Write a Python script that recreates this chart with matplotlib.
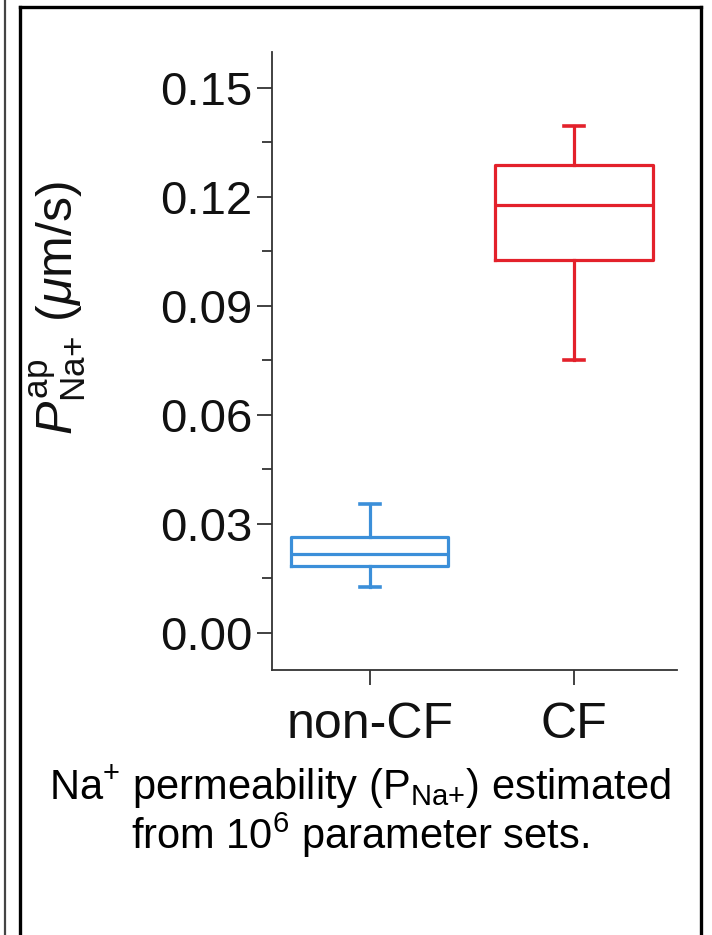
import matplotlib
matplotlib.use("Agg")
import matplotlib.pyplot as plt
from matplotlib.lines import Line2D
from matplotlib.ticker import MultipleLocator

plt.rcParams['font.family'] = ['Liberation Sans', 'DejaVu Sans']
plt.rcParams['mathtext.fontset'] = 'custom'
plt.rcParams['mathtext.rm'] = 'Liberation Sans'
plt.rcParams['mathtext.it'] = 'Liberation Sans:italic'
plt.rcParams['mathtext.bf'] = 'Liberation Sans:bold'

# box statistics (um/s)
groups = ['non-CF', 'CF']
whislo = [0.0127, 0.0751]
q1 = [0.0184, 0.1027]
med = [0.0217, 0.1178]
q3 = [0.0265, 0.1288]
whishi = [0.0355, 0.1395]
colors = ['#3b8fd9', '#e3212b']
yticks = [0.00, 0.03, 0.06, 0.09, 0.12, 0.15]

fig = plt.figure(figsize=(7.12, 9.35), dpi=100)
ax = fig.add_axes([272 / 712, 1 - 670 / 935, (677 - 272) / 712, (670 - 52) / 935])

stats = []
for i, g in enumerate(groups):
    stats.append(dict(label=g, whislo=whislo[i], q1=q1[i], med=med[i],
                      q3=q3[i], whishi=whishi[i], fliers=[]))

for i, s in enumerate(stats):
    c = colors[i]
    ax.bxp([s], positions=[i], widths=0.77, capwidths=0.1, showfliers=False,
           boxprops=dict(color=c, linewidth=2.3),
           medianprops=dict(color=c, linewidth=2.3),
           whiskerprops=dict(color=c, linewidth=2.3),
           capprops=dict(color=c, linewidth=2.6))

ax.set_xlim(-0.48, 1.505)
ax.set_ylim(-0.0102, 0.1599)
ax.set_xticks([0, 1])
ax.set_xticklabels(groups)
ax.set_yticks(yticks)
ax.set_yticklabels(['%.2f' % v for v in yticks])
ax.yaxis.set_minor_locator(MultipleLocator(0.015))

for side in ['top', 'right']:
    ax.spines[side].set_visible(False)
for side in ['left', 'bottom']:
    ax.spines[side].set_linewidth(1.3)
    ax.spines[side].set_color('#333333')

ax.tick_params(axis='both', which='major', direction='out', length=11, width=1.3,
               color='#333333', labelcolor='#111111')
ax.tick_params(axis='y', which='major', labelsize=34, pad=3)
ax.tick_params(axis='y', which='minor', direction='out', length=7, width=1.3,
               color='#333333')
ax.tick_params(axis='x', labelsize=36, pad=12)

ax.set_ylabel(r'$P^{\mathrm{ap}}_{\mathrm{Na{+}}}$ ($\mu$m/s)', fontsize=36, color='#111111')
ax.yaxis.set_label_coords(-0.455, 0.585)

fig.text(360 / 712, 1 - 787 / 935, r'Na$^{+}$ permeability (P$_{\mathrm{Na{+}}}$) estimated',
         ha='center', va='center', fontsize=30, color='black')
fig.text(360 / 712, 1 - 835 / 935, r'from 10$^{6}$ parameter sets.',
         ha='center', va='center', fontsize=30, color='black')

# panel frame
W, H = 712, 935
fig.add_artist(Line2D([5 / W, 5 / W], [0, 1], transform=fig.transFigure, color='#444444', linewidth=1.6))
fig.add_artist(Line2D([20 / W, 20 / W], [0, 1 - 7 / H], transform=fig.transFigure, color='black', linewidth=2.4))
fig.add_artist(Line2D([701 / W, 701 / W], [0, 1 - 7 / H], transform=fig.transFigure, color='black', linewidth=2.4))
fig.add_artist(Line2D([20 / W, 701 / W], [1 - 7 / H, 1 - 7 / H], transform=fig.transFigure, color='black', linewidth=2.4))

fig.savefig('out.png', dpi=100)
